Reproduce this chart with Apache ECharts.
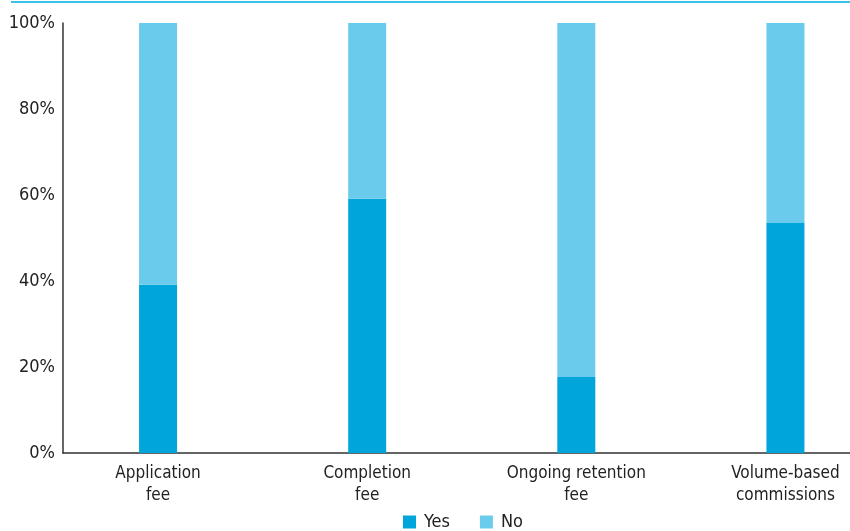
<!DOCTYPE html>
<html><head><meta charset="utf-8">
<script src="https://cdn.jsdelivr.net/npm/echarts@6/dist/echarts.min.js"></script>
<style>html,body{margin:0;padding:0;background:#fff;overflow:hidden}#c{width:890px;height:531px}</style>
</head><body><div id="c"></div>
<script>
const categories = ["Application\nfee", "Completion\nfee", "Ongoing retention\nfee", "Volume-based\ncommissions"];
const yesValues = [39.1, 59.1, 17.7, 53.5];
const noValues = [60.9, 40.9, 82.3, 46.5];
const yTicks = [0, 20, 40, 60, 80, 100];

const FONT = '"Liberation Sans Narrow", "DejaVu Sans Condensed", "Roboto", sans-serif';
const chart = echarts.init(document.getElementById('c'));
chart.setOption({
  animation: false,
  textStyle: { fontFamily: FONT },
  graphic: [{ type: 'rect', left: 11, top: 1, shape: { width: 839, height: 2 }, style: { fill: '#3ec1e3' } }],
  grid: [
    { left: 53.5, right: 0, top: 23, bottom: 78 },
    { left: 63, right: 40, top: 23, bottom: 78 }
  ],
  legend: {
    top: 508, left: 398, itemWidth: 13, itemHeight: 13, itemGap: 30,
    icon: 'rect',
    textStyle: { fontFamily: FONT, fontSize: 18, color: '#222', padding: [0, 0, 0, 3] },
    data: ['Yes', 'No']
  },
  xAxis: [
    { type: 'category', gridIndex: 0, data: categories,
      axisLine: { show: false }, axisTick: { show: false },
      axisLabel: { fontFamily: FONT, fontSize: 17, color: '#222', lineHeight: 22, margin: 10 } },
    { type: 'value', gridIndex: 1, min: 0, max: 1, axisLine: { show: true, lineStyle: { color: '#333', width: 1.5 } },
      axisTick: { show: false }, axisLabel: { show: false }, splitLine: { show: false } }
  ],
  yAxis: [
    { type: 'value', gridIndex: 0, min: 0, max: 100, show: false },
    { type: 'value', gridIndex: 1, min: 0, max: 100, interval: 20,
      axisLine: { show: true, lineStyle: { color: '#333', width: 1.5 } },
      axisTick: { show: false }, splitLine: { show: false },
      axisLabel: { fontFamily: FONT, fontSize: 18, color: '#222', margin: 8,
        formatter: v => yTicks.includes(v) ? v + '%' : '' } }
  ],
  series: [
    { name: 'Yes', type: 'bar', stack: 's', xAxisIndex: 0, yAxisIndex: 0, data: yesValues, barWidth: 38,
      itemStyle: { color: '#00a5db' } },
    { name: 'No', type: 'bar', stack: 's', xAxisIndex: 0, yAxisIndex: 0, data: noValues, barWidth: 38,
      itemStyle: { color: '#6acbec' } }
  ]
});
</script></body></html>
